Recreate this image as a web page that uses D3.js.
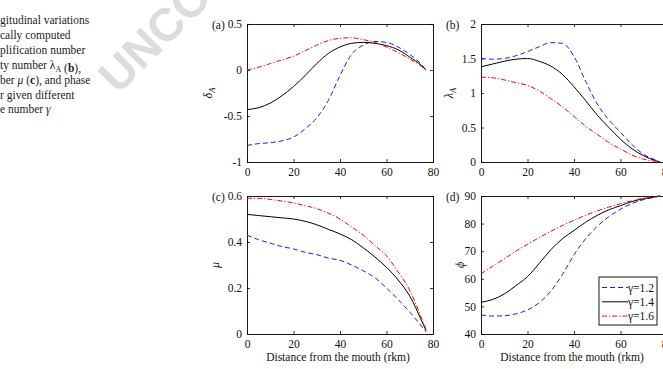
<!DOCTYPE html>
<html>
<head>
<meta charset="utf-8">
<script src="https://cdn.jsdelivr.net/npm/d3@7"></script>
<style>
  body { margin: 0; background: #fff; }
  text { font-family: 'Liberation Serif', 'Times New Roman', serif; }
</style>
</head>
<body>
<div id="chart"></div>
<script>
var width = 663
var height = 369

// distance from the mouth (rkm)
var km = [0, 5, 10, 15, 20, 25, 30, 35, 40, 45, 50, 55, 60, 65, 70, 75, 77];

// (a) amplification number delta_A
var delta12 = [-0.82, -0.80, -0.79, -0.77, -0.73, -0.64, -0.52, -0.33, -0.06, 0.17, 0.27, 0.31, 0.30, 0.25, 0.17, 0.06, 0.0];
var delta14 = [-0.43, -0.41, -0.36, -0.28, -0.18, -0.06, 0.07, 0.18, 0.25, 0.29, 0.30, 0.29, 0.265, 0.22, 0.14, 0.05, 0.0];
var delta16 = [0.0, 0.03, 0.07, 0.11, 0.15, 0.21, 0.27, 0.32, 0.345, 0.35, 0.33, 0.30, 0.25, 0.19, 0.12, 0.04, 0.0];

// (b) celerity number lambda_A
var lambda12 = [1.50, 1.49, 1.50, 1.54, 1.60, 1.67, 1.73, 1.72, 1.53, 1.17, 0.84, 0.61, 0.43, 0.25, 0.11, 0.03, 0.0];
var lambda14 = [1.38, 1.42, 1.46, 1.49, 1.50, 1.46, 1.39, 1.27, 1.09, 0.89, 0.68, 0.50, 0.33, 0.19, 0.09, 0.02, 0.0];
var lambda16 = [1.23, 1.22, 1.19, 1.15, 1.11, 1.03, 0.92, 0.80, 0.66, 0.52, 0.40, 0.28, 0.19, 0.10, 0.04, 0.01, 0.0];

// (c) damping number mu
var mu12 = [0.43, 0.41, 0.395, 0.38, 0.37, 0.355, 0.345, 0.33, 0.32, 0.30, 0.275, 0.245, 0.20, 0.15, 0.095, 0.035, 0.01];
var mu14 = [0.52, 0.515, 0.51, 0.505, 0.50, 0.49, 0.475, 0.455, 0.435, 0.41, 0.375, 0.335, 0.29, 0.235, 0.165, 0.06, 0.015];
var mu16 = [0.59, 0.59, 0.585, 0.578, 0.57, 0.558, 0.545, 0.525, 0.50, 0.465, 0.43, 0.385, 0.34, 0.27, 0.19, 0.07, 0.02];

// (d) phase lag phi
var phi12 = [46.9, 46.5, 46.6, 47.3, 48.7, 51.3, 55.5, 61.5, 68.7, 74.5, 79.0, 82.5, 85.2, 87.3, 88.7, 89.6, 90.0];
var phi14 = [51.5, 52.5, 54.5, 57.5, 60.8, 65.5, 70.5, 74.5, 77.5, 80.5, 83.0, 85.0, 86.5, 88.0, 89.0, 89.7, 90.0];
var phi16 = [61.8, 64.5, 67.2, 70.0, 72.5, 74.9, 77.2, 79.3, 81.2, 83.0, 84.6, 86.0, 87.2, 88.3, 89.2, 89.8, 90.0];

var seriesNames = ['\u03b3=1.2', '\u03b3=1.4', '\u03b3=1.6'];
var xTicks = [0, 20, 40, 60, 80];

var captionLines = [
    ['gitudinal variations'],
    ['cally computed'],
    ['plification number'],
    ['ty number \u03bb', {sub: 'A'}, ' (', {b: 'b'}, '),'],
    ['ber ', {i: '\u03bc'}, ' (', {b: 'c'}, '), and phase'],
    ['r given different'],
    ['e number ', {i: '\u03b3'}]
];

var styles = [
    { color: '#1a1aff', dash: '5,3' },
    { color: '#000000', dash: null },
    { color: '#ff0000', dash: '5,2,1.2,2' }
];

var svg = d3.select('#chart')
            .append('svg')
            .attr('width', width)
            .attr('height', height);

svg.append('rect').attr('width', width).attr('height', height).attr('fill', '#fff');

// watermark (only its first letters show in the picture)
svg.append('text')
   .attr('transform', 'translate(118,95) rotate(-45)')
   .attr('fill', '#dcdcdc')
   .style('font-family', "'Liberation Sans', Arial, sans-serif")
   .style('font-weight', 'bold')
   .style('font-size', '46px')
   .text('UNCO');

// caption fragment
var cap = svg.append('g');
captionLines.forEach(function(parts, i){
    var t = cap.append('text')
               .attr('x', 0)
               .attr('y', 24 + i * 14.9)
               .attr('font-size', 11.5)
               .attr('fill', '#222');
    parts.forEach(function(p){
        if (typeof p === 'string') t.append('tspan').text(p);
        else if (p.sub) t.append('tspan').attr('font-size', 8).attr('dy', 3).text(p.sub)
                         .call(function(){ t.append('tspan').attr('dy', -3).text(''); });
        else if (p.b) t.append('tspan').attr('font-weight', 'bold').text(p.b);
        else if (p.i) t.append('tspan').attr('font-style', 'italic').text(p.i);
    });
});

var panels = [
    { id: '(a)', x: 247, y: 24, ys: [delta12, delta14, delta16], domain: [-1, 0.5], ticks: [-1, -0.5, 0, 0.5], ylab: '\u03b4', sub: 'A', ylx: 212, xlabel: false },
    { id: '(b)', x: 481, y: 24, ys: [lambda12, lambda14, lambda16], domain: [0, 2], ticks: [0, 0.5, 1, 1.5, 2], ylab: '\u03bb', sub: 'A', ylx: 453, xlabel: false },
    { id: '(c)', x: 247, y: 196, ys: [mu12, mu14, mu16], domain: [0, 0.6], ticks: [0, 0.2, 0.4, 0.6], ylab: '\u03bc', sub: null, ylx: 219, xlabel: true },
    { id: '(d)', x: 481, y: 196, ys: [phi12, phi14, phi16], domain: [40, 90], ticks: [40, 50, 60, 70, 80, 90], ylab: '\u03d5', sub: null, ylx: 464, xlabel: true, legend: true }
];

var pw = 186, ph = 138;

panels.forEach(function(p){
    var g = svg.append('g').attr('transform', 'translate(' + p.x + ',' + p.y + ')');

    var x = d3.scaleLinear().domain([0, 80]).range([0, pw]);
    var y = d3.scaleLinear().domain(p.domain).range([ph, 0]);

    var fmt = function(d){ return String(d); };

    g.append('g').attr('transform', 'translate(0,' + ph + ')')
     .call(d3.axisBottom(x).tickValues(xTicks).tickSizeInner(-3).tickSizeOuter(0).tickPadding(6));
    g.append('g')
     .call(d3.axisTop(x).tickValues(xTicks).tickSizeInner(-3).tickSizeOuter(0).tickFormat(''));
    g.append('g')
     .call(d3.axisLeft(y).tickValues(p.ticks).tickSizeInner(-3).tickSizeOuter(0).tickPadding(5).tickFormat(fmt));
    g.append('g').attr('transform', 'translate(' + pw + ',0)')
     .call(d3.axisRight(y).tickValues(p.ticks).tickSizeInner(-3).tickSizeOuter(0).tickFormat(''));

    g.selectAll('.domain').attr('stroke', '#000').attr('stroke-width', 0.9);
    g.selectAll('.tick line').attr('stroke', '#000').attr('stroke-width', 0.8);
    g.selectAll('.tick text')
     .style('font-family', "'Liberation Serif', 'Times New Roman', serif")
     .attr('font-size', 11.5)
     .attr('fill', '#111');

    var line = d3.line()
                 .x(function(d, i){ return x(km[i]); })
                 .y(function(d){ return y(d); })
                 .curve(d3.curveMonotoneX);

    p.ys.forEach(function(vals, k){
        g.append('path')
         .datum(vals)
         .attr('d', line)
         .attr('fill', 'none')
         .attr('stroke', styles[k].color)
         .attr('stroke-width', 1)
         .attr('stroke-dasharray', styles[k].dash);
    });

    // panel letter
    svg.append('text')
       .attr('x', p.x - 35)
       .attr('y', p.y + 4.5)
       .attr('font-size', 11.5)
       .attr('fill', '#111')
       .text(p.id);

    // y label
    var yl = svg.append('text')
                .attr('transform', 'translate(' + p.ylx + ',' + (p.y + ph / 2) + ') rotate(-90)')
                .attr('text-anchor', 'middle')
                .attr('font-size', 12)
                .attr('fill', '#111');
    yl.append('tspan').attr('font-style', 'italic').text(p.ylab);
    if (p.sub) yl.append('tspan').attr('font-style', 'italic').attr('font-size', 8.5).attr('dy', 3).text(p.sub);

    if (p.xlabel) {
        svg.append('text')
           .attr('x', p.x + pw / 2 - 2)
           .attr('y', p.y + ph + 27)
           .attr('text-anchor', 'middle')
           .attr('font-size', 11.5)
           .attr('fill', '#111')
           .text('Distance from the mouth (rkm)');
    }

    if (p.legend) {
        var lg = svg.append('g').attr('transform', 'translate(599,277)');
        lg.append('rect').attr('width', 58).attr('height', 48)
          .attr('fill', '#fff').attr('stroke', '#000').attr('stroke-width', 0.9);
        seriesNames.forEach(function(name, k){
            var ry = 10.5 + k * 14.3;
            lg.append('line').attr('x1', 3).attr('x2', 29).attr('y1', ry).attr('y2', ry)
              .attr('stroke', styles[k].color).attr('stroke-width', 1)
              .attr('stroke-dasharray', styles[k].dash);
            lg.append('text').attr('x', 29).attr('y', ry + 4)
              .attr('font-size', 11.5).attr('fill', '#111').text(name);
        });
    }
});
</script>
</body>
</html>
